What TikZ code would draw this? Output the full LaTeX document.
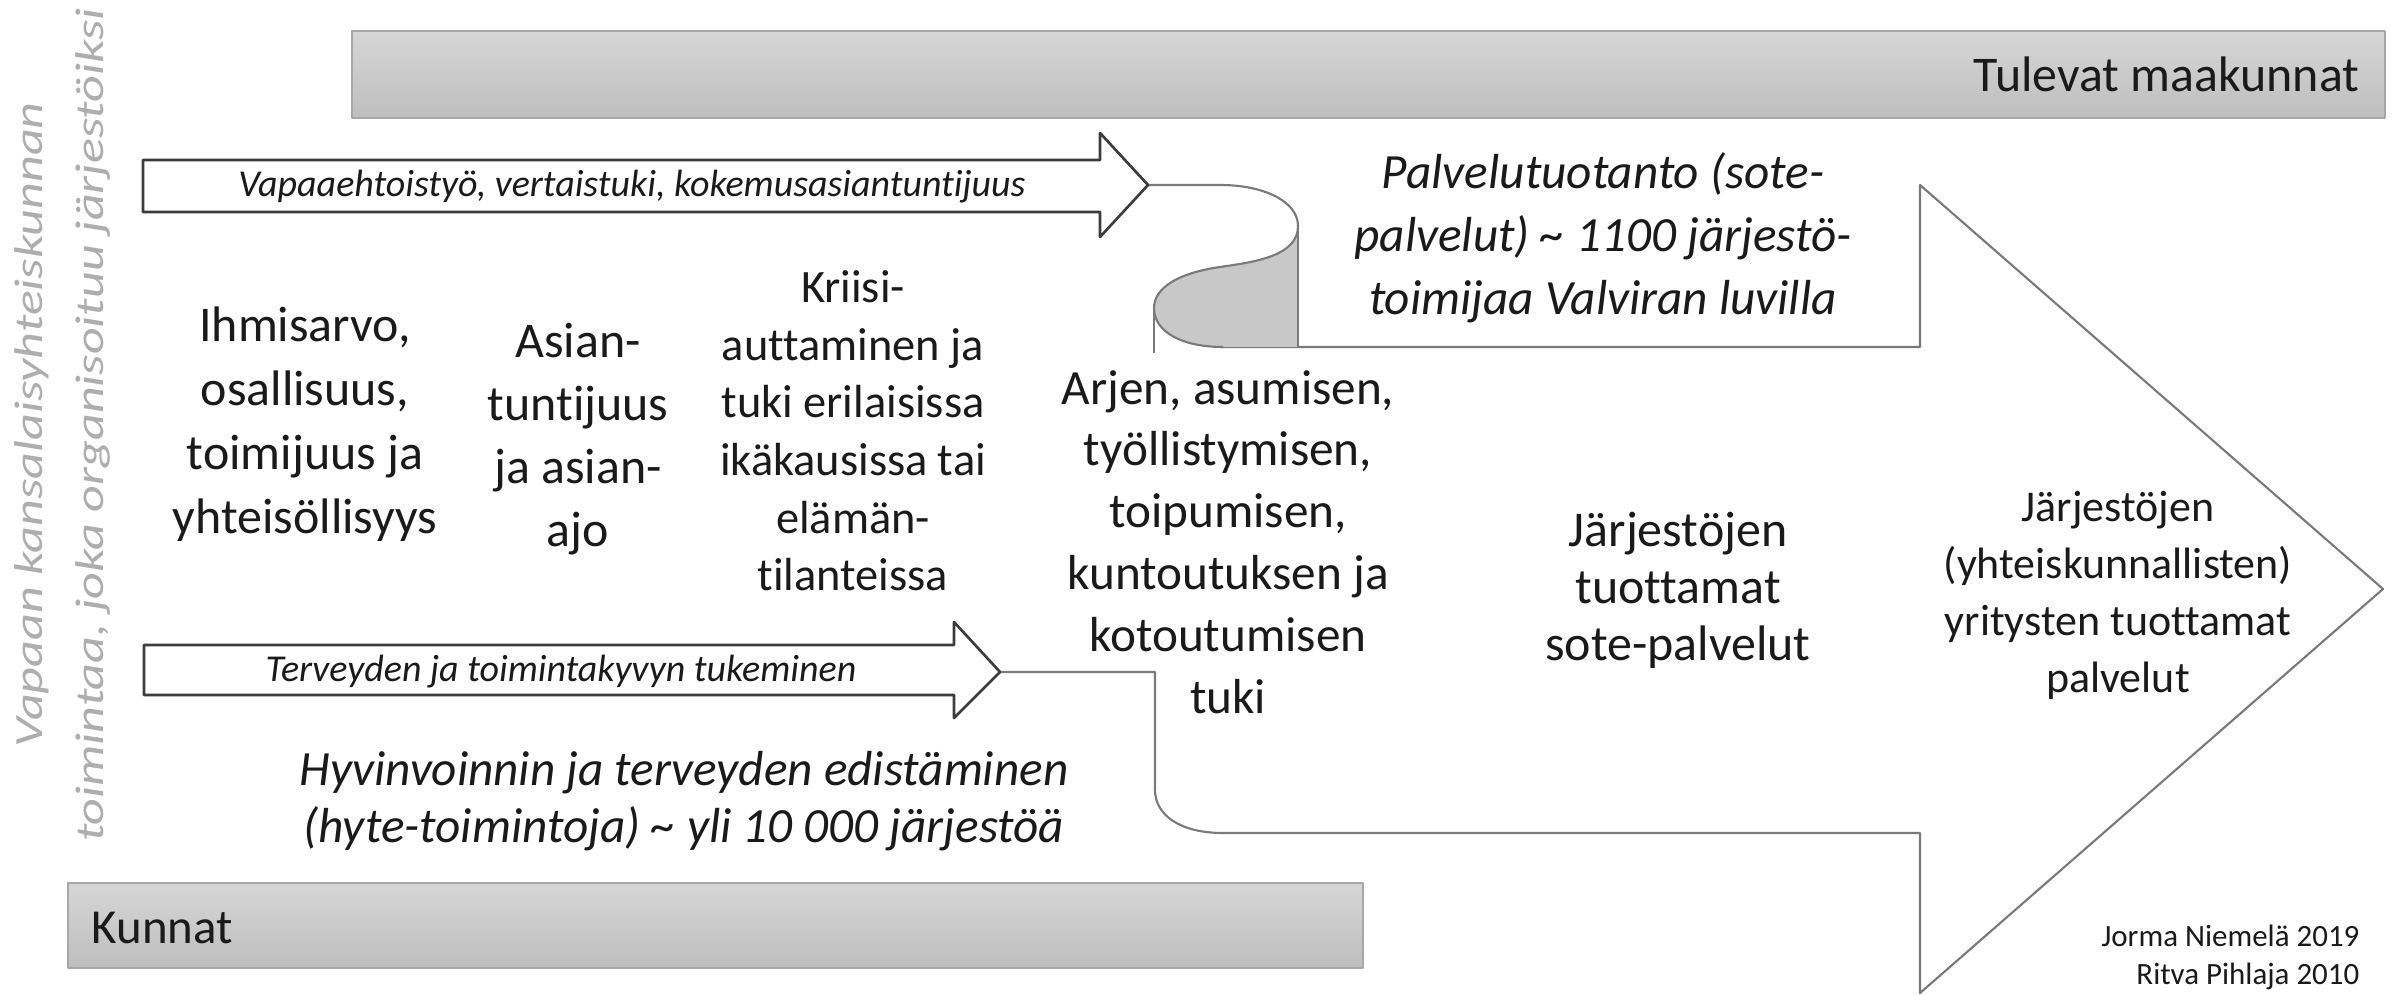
\documentclass[tikz,border=0pt]{standalone}
\usepackage{fontspec}
\setmainfont{Carlito}[Ligatures=CommonOff]
\usetikzlibrary{calc}
\definecolor{txt}{HTML}{1A1A1A}
\definecolor{vtxt}{HTML}{AEAEAE}
\definecolor{edge}{HTML}{7A7A7A}
\definecolor{barTop}{HTML}{D6D6D6}
\definecolor{barBot}{HTML}{BEBEBE}
\definecolor{barEdge}{HTML}{A8A8A8}
\definecolor{curlfill}{HTML}{C8C8C8}
\definecolor{arr}{HTML}{3C3C3C}
\tikzset{
  outline/.style={draw=edge, line width=0.6pt},
  smallarrow/.style={draw=arr, line width=0.75pt, fill=white},
  bar/.style={top color=barTop, bottom color=barBot, draw=barEdge, line width=0.6pt},
  body/.style={align=center, inner sep=0pt, text=txt},
  vert/.style={rotate=90, inner sep=0pt, text=vtxt, font=\fontsize{11.4pt}{13pt}\selectfont\itshape},
}
\begin{document}
\begin{tikzpicture}[x=0.01cm,y=-0.01cm,line join=round]
\useasboundingbox (0,0) rectangle (2392,995);
\fill[white] (0,0) rectangle (2392,995);
% bars
\path[bar] (352,31) rectangle (2385,118);
\path[bar] (68,883) rectangle (1363,968);
\node[anchor=east, inner sep=0pt, text=txt, font=\fontsize{14.2pt}{17pt}\selectfont] (tulevat) at (2360,74) {Tulevat maakunnat};
\node[anchor=west, inner sep=0pt, text=txt, font=\fontsize{13.9pt}{17pt}\selectfont] (kunnat) at (91,928) {Kunnat};
% vertical texts
\node[vert] (v1) at (32,425) {\scalebox{1.3}[1]{Vapaan kansalaisyhteiskunnan}};
\node[vert] (v2) at (93,425) {\scalebox{1.3}[1]{toimintaa, joka organisoituu järjestöiksi}};
% big shape
\coordinate (tipB) at (1000,672);
\coordinate (tipA) at (1148,185);
\draw[outline] (1223,347) -- (1920,347) -- (1920,185) -- (2383,589) -- (1920,993) -- (1920,833) -- (1223,833)
  .. controls (1180,833) and (1155,815) .. (1155,790) -- (1155,672) -- (tipB);
% curl
\fill[curlfill] (1298,226) .. controls (1298,256) and (1255,262) .. (1220,267)
  .. controls (1178,273) and (1154,288) .. (1154,308)
  .. controls (1154,332) and (1182,347) .. (1223,347) -- (1298,347) -- cycle;
\draw[outline] (tipA) -- (1220,185) .. controls (1265,185) and (1298,202) .. (1298,226)
  .. controls (1298,256) and (1255,262) .. (1220,267)
  .. controls (1178,273) and (1154,288) .. (1154,308)
  .. controls (1154,332) and (1182,347) .. (1223,347);
\draw[outline] (1298,226) -- (1298,347);
\draw[outline] (1154,308) -- (1154,353);
% small arrows
\draw[smallarrow] (143,160) -- (1100,160) -- (1100,133) -- (tipA) -- (1100,237) -- (1100,212) -- (143,212) -- cycle;
\draw[smallarrow] (144,645) -- (954,645) -- (954,622) -- (tipB) -- (954,718) -- (954,695) -- (144,695) -- cycle;
\node[body, font=\fontsize{10.8pt}{13pt}\selectfont\itshape] (vapaa) at (632,187) {Vapaaehtoistyö, vertaistuki, kokemusasiantuntijuus};
\node[body, font=\fontsize{10.8pt}{13pt}\selectfont\itshape] (terv) at (561,672) {Terveyden ja toimintakyvyn tukeminen};
% text blocks
\node[body, font=\fontsize{14.2pt}{18.2pt}\selectfont] (ihmis) at (305,424) {Ihmisarvo,\\osallisuus,\\toimijuus ja\\yhteisöllisyys};
\node[body, font=\fontsize{14.2pt}{17.9pt}\selectfont] (asian) at (578,439) {Asian-\\tuntijuus\\ja asian-\\ajo};
\node[body, font=\fontsize{13.2pt}{16.4pt}\selectfont] (kriisi) at (853,431) {Kriisi-\\auttaminen ja\\tuki erilaisissa\\ikäkausissa tai\\elämän-\\tilanteissa};
\node[body, font=\fontsize{14.0pt}{17.6pt}\selectfont] (arjen) at (1228,542) {Arjen, asumisen,\\työllistymisen,\\toipumisen,\\kuntoutuksen ja\\kotoutumisen\\tuki};
\node[body, font=\fontsize{14.2pt}{16.2pt}\selectfont] (jtuot) at (1678,590) {Järjestöjen\\tuottamat\\sote-palvelut};
\node[body, font=\fontsize{12.5pt}{16.2pt}\selectfont] (yrit) at (2118,595) {Järjestöjen\\(yhteiskunnallisten)\\yritysten tuottamat\\palvelut};
\node[body, font=\fontsize{14.0pt}{17.9pt}\selectfont\itshape] (palv) at (1603,238) {Palvelutuotanto (sote-\\palvelut) \textasciitilde{} 1100 järjestö-\\toimijaa Valviran luvilla};
\node[body, font=\fontsize{14.0pt}{16.2pt}\selectfont\itshape] (hyte) at (684,801) {Hyvinvoinnin ja terveyden edistäminen\\(hyte-toimintoja) \textasciitilde{} yli 10 000 järjestöä};
\node[align=right, anchor=east, inner sep=0pt, text=txt, font=\fontsize{8.8pt}{10.8pt}\selectfont] (credit) at (2360,957) {Jorma Niemelä 2019\\Ritva Pihlaja 2010};
\end{tikzpicture}
\end{document}
